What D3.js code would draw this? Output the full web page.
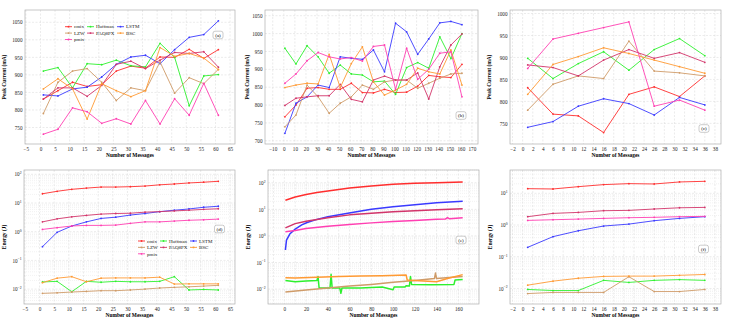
<!DOCTYPE html>
<html>
<head>
<meta charset="utf-8">
<script src="https://cdn.jsdelivr.net/npm/d3@7"></script>
<style>
body { margin: 0; background: #fff; }
text { font-family: "Liberation Serif", "DejaVu Serif", serif; }
</style>
</head>
<body>
<svg id="chart" width="730" height="323"></svg>
<script>
"use strict";

const methods = ["cmix", "Huffman", "LSTM", "LZW", "PAQ8PX", "BSC", "pmix"];
const colors = ["#ff2e2e", "#2ef02e", "#3a3aff", "#cf9b68", "#d2346a", "#ff9a33", "#ff3fb2"];

// x values of the three message sets
const xSet1 = [1, 6, 11, 16, 21, 26, 31, 36, 41, 46, 51, 56, 61];
const xSet2 = [1, 11, 21, 31, 41, 51, 61, 71, 81, 91, 101, 111, 121, 131, 141, 151, 161];
const xSet3 = [1, 6, 11, 16, 21, 26, 31, 36];

// peak current (mA), one row per method (same order as methods)
const peakA = [
  [831, 855, 879, 867, 872, 911, 925, 919, 951, 950, 973, 947, 972],
  [911, 921, 863, 932, 929, 942, 926, 923, 990, 950, 812, 897, 901],
  [843, 840, 860, 865, 894, 930, 951, 956, 932, 972, 1007, 1015, 1054],
  [790, 879, 911, 918, 879, 827, 863, 855, 937, 848, 892, 875, 916],
  [831, 863, 863, 839, 870, 930, 939, 918, 942, 964, 961, 966, 922],
  [860, 889, 860, 774, 875, 855, 838, 855, 978, 953, 961, 948, 915],
  [731, 745, 806, 795, 762, 775, 760, 827, 760, 832, 785, 876, 785]
];
const peakB = [
  [767, 800, 847, 849, 844, 844, 861, 835, 834, 844, 835, 836, 853, 883, 879, 877, 914],
  [959, 915, 966, 935, 889, 912, 887, 884, 865, 867, 830, 905, 919, 903, 991, 930, 1000],
  [721, 805, 823, 856, 849, 935, 931, 928, 954, 893, 1029, 1005, 942, 985, 1030, 1034, 1025],
  [739, 772, 856, 823, 777, 805, 823, 856, 844, 865, 870, 870, 847, 861, 875, 887, 889],
  [799, 819, 823, 826, 826, 858, 816, 809, 870, 881, 870, 870, 890, 817, 907, 968, 999],
  [849, 856, 861, 859, 942, 849, 916, 963, 865, 828, 842, 858, 903, 893, 887, 954, 856],
  [861, 887, 924, 947, 935, 929, 933, 923, 964, 968, 844, 959, 872, 900, 945, 949, 823]
];
const peakC = [
  [831, 771, 767, 729, 816, 833, 811, 858],
  [898, 852, 886, 913, 871, 918, 943, 904],
  [741, 754, 789, 806, 795, 769, 809, 792],
  [780, 839, 858, 852, 937, 869, 865, 858],
  [883, 877, 858, 894, 918, 898, 911, 889],
  [816, 884, 902, 922, 909, 894, 879, 864],
  [875, 942, 955, 968, 981, 789, 803, 780]
];

// energy (J)
const energyD = [
  [21, 25.6, 30, 33, 36, 36, 37, 39, 43, 46, 50, 53, 57],
  [0.0177, 0.0186, 0.0081, 0.0186, 0.0173, 0.0186, 0.018, 0.018, 0.0186, 0.027, 0.0093, 0.0097, 0.0093],
  [0.3, 0.95, 1.58, 2.2, 2.9, 3.2, 3.8, 4.3, 5.0, 5.6, 6.2, 7.1, 7.7],
  [0.0071, 0.0074, 0.0079, 0.0083, 0.0088, 0.0088, 0.0093, 0.0100, 0.0109, 0.0115, 0.012, 0.0127, 0.0135],
  [2.2, 2.8, 3.3, 3.7, 4.1, 4.3, 4.4, 4.8, 5.0, 5.3, 5.6, 6.0, 6.3],
  [0.0167, 0.024, 0.027, 0.018, 0.024, 0.0245, 0.0245, 0.0245, 0.026, 0.015, 0.0152, 0.0152, 0.0152],
  [1.2, 1.38, 1.58, 1.66, 1.66, 1.7, 1.95, 2.2, 2.2, 2.35, 2.5, 2.6, 2.75]
];
const energyF = [
  [14.0, 13.7, 16.2, 18.8, 20.2, 19.7, 22.8, 23.9],
  [0.0093, 0.0086, 0.0086, 0.018, 0.0155, 0.018, 0.019, 0.018],
  [0.198, 0.43, 0.66, 0.93, 1.07, 1.37, 1.62, 1.83],
  [0.0069, 0.0075, 0.0075, 0.0075, 0.0234, 0.008, 0.008, 0.0093],
  [1.83, 2.33, 2.5, 2.83, 2.9, 3.2, 3.5, 3.6],
  [0.0127, 0.017, 0.021, 0.024, 0.0245, 0.0245, 0.026, 0.0276],
  [1.4, 1.47, 1.54, 1.62, 1.7, 1.75, 1.83, 1.88]
];
// panel (e): [messages, energy] readings
const energyE = [
  [[1, 22], [10, 29], [20, 36], [30, 43], [40, 49], [60, 63], [80, 75], [100, 87], [120, 95], [140, 100], [164, 106]],
  [[1, 0.021], [10, 0.019], [20, 0.020], [30, 0.021], [31, 0.030], [32, 0.011], [42, 0.011], [43, 0.036], [44, 0.011],
   [51, 0.011], [52, 0.007], [53, 0.011], [70, 0.011], [90, 0.012], [100, 0.0095], [101, 0.012], [111, 0.012],
   [112, 0.0135], [115, 0.013], [116, 0.030], [117, 0.015], [135, 0.0145], [156, 0.015], [157, 0.022], [164, 0.023]],
  [[1, 0.295], [2, 0.70], [5, 1.18], [10, 1.8], [16, 2.6], [21, 3.2], [30, 4.2], [40, 5.3], [61, 7.4], [80, 10],
   [100, 12.6], [120, 14.9], [140, 17.8], [164, 20]],
  [[1, 0.0078], [20, 0.0093], [40, 0.011], [60, 0.013], [80, 0.015], [100, 0.018], [120, 0.021], [138, 0.025],
   [139, 0.040], [140, 0.025], [164, 0.030]],
  [[1, 2.0], [10, 2.9], [20, 3.6], [40, 4.8], [60, 6.2], [80, 7.2], [100, 8.1], [120, 8.9], [140, 9.7], [164, 10.5]],
  [[1, 0.027], [10, 0.026], [30, 0.028], [50, 0.030], [70, 0.031], [90, 0.032], [112, 0.034], [113, 0.022],
   [120, 0.021], [140, 0.019], [150, 0.025], [164, 0.035]],
  [[1, 1.45], [10, 1.6], [20, 1.9], [40, 2.3], [60, 2.7], [80, 3.1], [100, 3.5], [120, 3.8], [140, 4.2], [148, 4.3],
   [150, 4.9], [152, 4.4], [164, 4.8]]
];

const svg = d3.select("#chart");

const panels = [
  { id: "(a)", data: peakA, xs: xSet1, left: 25, right: 235, top: 10, bottom: 144,
    xd: [-5.3, 66.7], xticks: d3.range(-5, 66, 5), xgrid: d3.range(-5, 66, 5),
    yd: [703, 1085], yticks: d3.range(750, 1051, 50), ylabel: "Peak Current (mA)", ylx: 6,
    tag: [218, 35], legend: [65, 26.7] },
  { id: "(b)", data: peakB, xs: xSet2, left: 265, right: 478, top: 10, bottom: 144,
    xd: [-17, 175.5], xticks: d3.range(-10, 171, 10), xgrid: d3.range(-10, 171, 10),
    yd: [691, 1066], yticks: d3.range(700, 1051, 50), ylabel: "Peak Current (mA)", ylx: 249,
    tag: [461, 115.5] },
  { id: "(c)", data: peakC, xs: xSet3, left: 510, right: 721, top: 10, bottom: 144,
    xd: [-2.5, 39.2], xticks: d3.range(-2, 39, 2), xgrid: d3.range(-2, 39, 2),
    yd: [703, 1008], yticks: d3.range(750, 1001, 50), ylabel: "Peak Current (mA)", ylx: 491,
    tag: [704, 128.5] },
  { id: "(d)", data: energyD, xs: xSet1, left: 24, right: 235, top: 170, bottom: 304, log: true,
    xd: [-5.3, 66.7], xticks: d3.range(-5, 66, 5), xgrid: d3.range(-5, 66, 5),
    yd: [Math.pow(10, -2.52), Math.pow(10, 2.15)], yticks: [1e-2, 1e-1, 1, 10, 100], ylabel: "Energy (J)", ylx: 6,
    tag: [219.5, 229], legend: [138, 241] },
  { id: "(e)", data: energyE, pairs: true, left: 268, right: 479, top: 170, bottom: 304, log: true,
    xd: [-15, 179], xticks: d3.range(0, 161, 20), xgrid: d3.range(-10, 179, 10),
    yd: [Math.pow(10, -2.56), Math.pow(10, 2.48)], yticks: [1e-2, 1e-1, 1, 10, 100], ylabel: "Energy (J)", ylx: 250,
    tag: [461, 240] },
  { id: "(f)", data: energyF, xs: xSet3, left: 510, right: 721, top: 170, bottom: 304, log: true,
    xd: [-2.5, 39.2], xticks: d3.range(-2, 39, 2), xgrid: d3.range(-2, 39, 2),
    yd: [Math.pow(10, -2.49), Math.pow(10, 1.735)], yticks: [1e-2, 1e-1, 1, 10], ylabel: "Energy (J)", ylx: 492,
    tag: [703.5, 249] }
];

panels.forEach(drawPanel);

function drawPanel(p) {
  const x = d3.scaleLinear().domain(p.xd).range([p.left, p.right]);
  const y = (p.log ? d3.scaleLog() : d3.scaleLinear()).domain(p.yd).range([p.bottom, p.top]);
  const g = svg.append("g");

  // minor grid for the log panels
  if (p.log) {
    const minor = [];
    for (let e = -3; e <= 2; e++) {
      for (let k = 2; k <= 9; k++) {
        const v = k * Math.pow(10, e);
        if (v > p.yd[0] && v < p.yd[1]) minor.push(v);
      }
    }
    g.append("g").selectAll("line").data(minor).join("line")
      .attr("x1", p.left).attr("x2", p.right)
      .attr("y1", d => y(d)).attr("y2", d => y(d))
      .attr("stroke", "#e4e4e4").attr("stroke-width", 0.5).attr("stroke-dasharray", "1,1");
  }

  g.append("g").selectAll("line").data(p.yticks).join("line")
    .attr("x1", p.left).attr("x2", p.right)
    .attr("y1", d => y(d)).attr("y2", d => y(d))
    .attr("stroke", "#d6d6d6").attr("stroke-width", 0.5).attr("stroke-dasharray", "2,1.5");

  g.append("g").selectAll("line").data(p.xgrid).join("line")
    .attr("x1", d => x(d)).attr("x2", d => x(d))
    .attr("y1", p.top).attr("y2", p.bottom)
    .attr("stroke", "#d6d6d6").attr("stroke-width", 0.5).attr("stroke-dasharray", "2,1.5");

  g.append("rect")
    .attr("x", p.left).attr("y", p.top)
    .attr("width", p.right - p.left).attr("height", p.bottom - p.top)
    .attr("fill", "none").attr("stroke", "#b0b0b0").attr("stroke-width", 0.7);

  // axes
  const xa = g.append("g")
    .attr("transform", `translate(0,${p.bottom})`)
    .call(d3.axisBottom(x).tickValues(p.xticks).tickSize(0).tickPadding(3));
  const ya = g.append("g")
    .attr("transform", `translate(${p.left},0)`)
    .call(d3.axisLeft(y).tickValues(p.yticks).tickSize(0).tickPadding(2.5)
      .tickFormat(p.log ? "" : d3.format("d")));
  [xa, ya].forEach(a => {
    a.select(".domain").remove();
    a.attr("font-family", null).attr("font-size", null);
    a.selectAll("text").attr("font-size", 5.2).attr("fill", "#222");
  });
  if (p.log) {
    ya.selectAll("text").each(function(d) {
      const t = d3.select(this), e = Math.round(Math.log10(d));
      t.text("10");
      t.append("tspan").attr("dy", -2.2).attr("font-size", 3.7)
        .text(e < 0 ? "\u2212" + (-e) : e);
    });
  }

  g.append("text")
    .attr("x", (p.left + p.right) / 2).attr("y", p.bottom + 13)
    .attr("text-anchor", "middle").attr("font-size", 5.4).attr("font-weight", "bold")
    .text("Number of Messages");
  g.append("text")
    .attr("transform", `translate(${p.ylx},${(p.top + p.bottom) / 2}) rotate(-90)`)
    .attr("text-anchor", "middle").attr("font-size", 5.4).attr("font-weight", "bold")
    .text(p.ylabel);

  // series
  const line = d3.line().x(d => x(d[0])).y(d => y(d[1]));
  const series = p.data.map((vals, i) => ({
    i,
    pts: p.pairs ? vals : vals.map((v, j) => [p.xs[j], v])
  }));
  const sg = g.append("g");
  series.forEach(s => {
    sg.append("path")
      .attr("d", line(s.pts))
      .attr("fill", "none")
      .attr("stroke", colors[s.i])
      .attr("stroke-width", p.pairs ? 1.5 : 0.9)
      .attr("stroke-linejoin", "round");
    if (!p.pairs) {
      sg.selectAll(null).data(s.pts).join("circle")
        .attr("cx", d => x(d[0])).attr("cy", d => y(d[1]))
        .attr("r", 0.9).attr("fill", colors[s.i]);
    }
  });

  // panel tag
  g.append("rect")
    .attr("x", p.tag[0] - 5).attr("y", p.tag[1] - 3.8)
    .attr("width", 10).attr("height", 7.6).attr("rx", 2)
    .attr("fill", "#fff").attr("stroke", "#999").attr("stroke-width", 0.5);
  g.append("text")
    .attr("x", p.tag[0]).attr("y", p.tag[1] + 1.8)
    .attr("text-anchor", "middle").attr("font-size", 5).text(p.id);

  if (p.legend) drawLegend(g, p.legend[0], p.legend[1]);
}

function drawLegend(g, lx, ly) {
  const slots = [[0, 0], [22, 0], [52, 0], [0, 1], [22, 1], [52, 1], [0, 2]];
  methods.forEach((m, i) => {
    const cx = lx + slots[i][0], cy = ly + slots[i][1] * 6.4;
    g.append("line")
      .attr("x1", cx).attr("x2", cx + 7).attr("y1", cy).attr("y2", cy)
      .attr("stroke", colors[i]).attr("stroke-width", 0.9);
    g.append("circle").attr("cx", cx + 3.5).attr("cy", cy).attr("r", 0.9).attr("fill", colors[i]);
    g.append("text").attr("x", cx + 9).attr("y", cy + 1.7)
      .attr("font-size", 5).attr("fill", "#222").text(m);
  });
}
</script>
</body>
</html>
